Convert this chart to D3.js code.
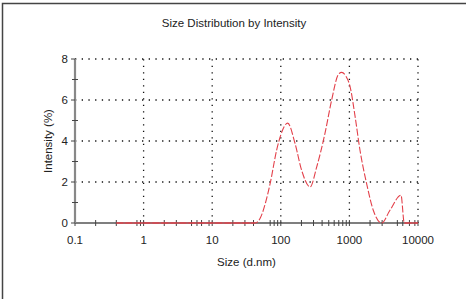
<!DOCTYPE html>
<html lang="en">
  <head>
    <meta charset="UTF-8">
    <title>Size Distribution by Intensity</title>
    <style>
      body { margin: 0; background: #fff; }
      text { font-family: "Liberation Sans", Arial, sans-serif; fill: #222; }
    </style>
  </head>
  <body>
    <div id="chart"></div>
    <script src="https://d3js.org/d3.v7.min.js"></script>
    <script>
      // size (d.nm) and intensity (%)
      const sizes = [0.4, 1, 10, 42, 50, 60, 70, 87, 100, 126, 161, 201, 267, 334, 441, 552, 689, 771, 891,
                     1020, 1210, 1425, 1780, 2230, 2950, 3900, 5650, 6310, 8000, 10000];
      const intensity = [0, 0, 0, 0, 0.23, 1.0, 1.93, 3.56, 4.3, 4.87, 3.89, 2.58, 1.76, 2.74, 4.38, 6.01, 7.24, 7.35, 7.16,
                         6.67, 5.2, 3.56, 1.93, 0.62, 0, 0.62, 1.36, 0, 0, 0];
      const xMajor = [0.1, 1, 10, 100, 1000, 10000];
      const xLabels = ["0.1", "1", "10", "100", "1000", "10000"];
      const xMinor = [0.2, 0.4, 0.8, 0.9, 2, 3, 5, 6, 7, 9, 20, 30, 40, 70, 80, 90,
                      200, 300, 400, 500, 600, 700, 800, 900, 2000, 3000, 5000, 6000, 7500, 9000];
      const yMajor = [0, 2, 4, 6, 8];
      const yMinor = [1, 3, 5, 7];

      const data = sizes.map((s, i) => ({ s: s, v: intensity[i] }));

      const W = 471, H = 299;
      const margin = { top: 59, right: 53, bottom: 76, left: 75 };
      const width = W - margin.left - margin.right;
      const height = H - margin.top - margin.bottom;

      const svg = d3.select("#chart").append("svg")
          .attr("width", W).attr("height", H);

      // frame (only top and left edges show)
      svg.append("path")
          .attr("d", "M2.5," + H + "V3.5H466")
          .attr("fill", "none").attr("stroke", "#444").attr("stroke-width", 1.5);

      const g = svg.append("g").attr("transform", "translate(" + margin.left + "," + margin.top + ")");

      const x = d3.scaleLog().domain([0.1, 10000]).range([0, width]);
      const y = d3.scaleLinear().domain([0, 8]).range([height, 0]);

      // dotted grid
      g.selectAll(".vgrid").data(xMajor.slice(1)).enter().append("line")
          .attr("x1", d => x(d)).attr("x2", d => x(d))
          .attr("y1", height).attr("y2", 0)
          .attr("stroke", "#111").attr("stroke-width", 1.3)
          .attr("stroke-dasharray", "1.3,5.2");
      g.selectAll(".hgrid").data(yMajor.slice(1)).enter().append("line")
          .attr("x1", 0).attr("x2", width)
          .attr("y1", d => y(d)).attr("y2", d => y(d))
          .attr("stroke", "#111").attr("stroke-width", 1.3)
          .attr("stroke-dasharray", "1.3,5.4");

      // x axis
      g.append("line").attr("x1", 0).attr("x2", width)
          .attr("y1", height).attr("y2", height)
          .attr("stroke", "#555").attr("stroke-width", 1.5);
      g.selectAll(".xt").data(xMajor.concat(xMinor)).enter().append("line")
          .attr("x1", d => x(d)).attr("x2", d => x(d))
          .attr("y1", height - 3).attr("y2", height + 3)
          .attr("stroke", "#444").attr("stroke-width", 1);
      g.selectAll(".xl").data(xMajor).enter().append("text")
          .attr("x", d => x(d)).attr("y", height + 21)
          .attr("text-anchor", "middle").style("font-size", "11.5px")
          .text((d, i) => xLabels[i]);

      // y axis
      g.append("line").attr("x1", 0).attr("x2", 0)
          .attr("y1", height).attr("y2", 0)
          .attr("stroke", "#888").attr("stroke-width", 2.2);
      g.selectAll(".ytM").data(yMajor).enter().append("line")
          .attr("x1", -4).attr("x2", 0)
          .attr("y1", d => y(d)).attr("y2", d => y(d))
          .attr("stroke", "#444").attr("stroke-width", 1);
      g.selectAll(".ytm").data(yMinor).enter().append("line")
          .attr("x1", -3).attr("x2", 3)
          .attr("y1", d => y(d)).attr("y2", d => y(d))
          .attr("stroke", "#444").attr("stroke-width", 1);
      g.selectAll(".yl").data(yMajor).enter().append("text")
          .attr("x", -7).attr("y", d => y(d) + 4)
          .attr("text-anchor", "end").style("font-size", "11.5px")
          .text(d => d);

      // the distribution line
      const line = d3.line()
          .x(d => x(d.s))
          .y(d => y(d.v))
          .curve(d3.curveMonotoneX);
      g.append("path").datum(data)
          .attr("fill", "none").attr("stroke", "#e3404a").attr("stroke-width", 1.1)
          .attr("stroke-dasharray", "7,2")
          .attr("d", line);
      // zero stretches look solid on top of the axis
      g.append("path").datum(data)
          .attr("fill", "none").attr("stroke", "#e3404a").attr("stroke-width", 1.1)
          .attr("d", d3.line().defined((d, i) => d.v === 0 && (
              (i > 0 && data[i - 1].v === 0) || (i < data.length - 1 && data[i + 1].v === 0)))
            .x(d => x(d.s)).y(d => y(d.v)));

      // titles
      svg.append("text").attr("x", 234).attr("y", 27)
          .attr("text-anchor", "middle").style("font-size", "11.5px")
          .text("Size Distribution by Intensity");
      svg.append("text").attr("x", margin.left + width / 2).attr("y", 266)
          .attr("text-anchor", "middle").style("font-size", "11.5px")
          .text("Size (d.nm)");
      svg.append("text")
          .attr("transform", "translate(52," + (margin.top + height / 2) + ") rotate(-90)")
          .attr("text-anchor", "middle").style("font-size", "11.5px")
          .text("Intensity (%)");
    </script>
  </body>
</html>
